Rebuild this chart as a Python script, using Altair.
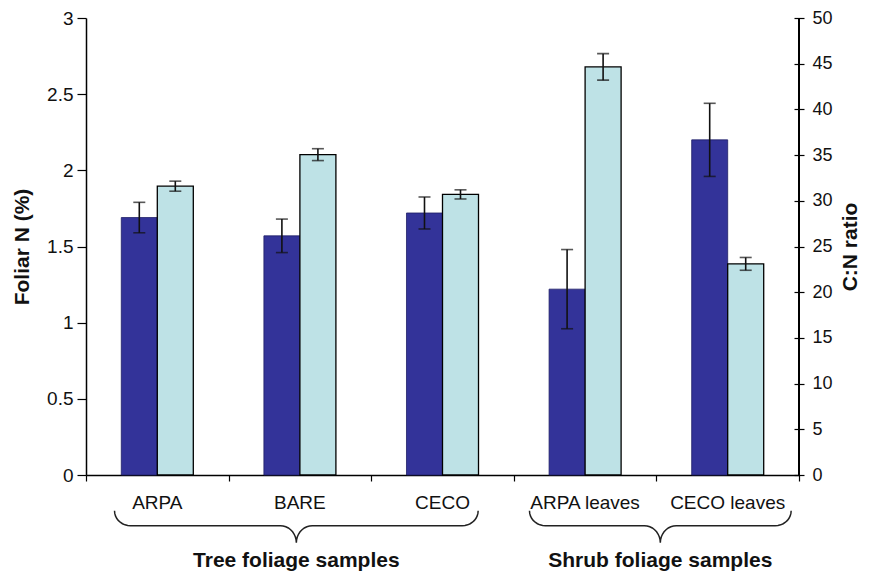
import altair as alt
import pandas as pd
import numpy as np

# ---------------- data ----------------
categories = ["ARPA", "BARE", "CECO", "ARPA leaves", "CECO leaves"]
foliar_n = [1.69, 1.57, 1.72, 1.22, 2.20]
foliar_n_err = [0.10, 0.11, 0.105, 0.26, 0.24]
cn_ratio = [31.6, 35.05, 30.7, 44.65, 23.1]
cn_ratio_err = [0.55, 0.65, 0.5, 1.45, 0.7]

group_names = ["Tree foliage samples", "Shrub foliage samples"]
group_first = [0, 3]   # index of first category in group
group_last = [2, 4]    # index of last category in group

y_ticks_n = [0, 0.5, 1, 1.5, 2, 2.5, 3]
y_ticks_cn = [0, 5, 10, 15, 20, 25, 30, 35, 40, 45, 50]

# ---------------- style ----------------
FONT = "Liberation Sans"
DARK = "#333399"
LIGHT = "#BEE2E6"
INK = "#111111"
W, H = 713, 457

n_df = pd.DataFrame({
    "category": categories,
    "value": foliar_n,
    "lo": np.array(foliar_n) - np.array(foliar_n_err),
    "hi": np.array(foliar_n) + np.array(foliar_n_err),
    "series": "N",
})
cn_df = pd.DataFrame({
    "category": categories,
    "value": cn_ratio,
    "lo": np.array(cn_ratio) - np.array(cn_ratio_err),
    "hi": np.array(cn_ratio) + np.array(cn_ratio_err),
    "series": "CN",
})

x_band = alt.X(
    "category:N", sort=categories,
    scale=alt.Scale(paddingInner=0.495, paddingOuter=0.2475),
    axis=alt.Axis(title=None, ticks=False, tickSize=0, labelAngle=0,
                  labelFont=FONT, labelFontSize=19, labelColor=INK,
                  labelPadding=18, domainColor="#000", domainWidth=1.5),
)
x_off = alt.XOffset("series:N", scale=alt.Scale(domain=["N", "CN"],
                                               paddingInner=0, paddingOuter=0))

n_axis = alt.Axis(orient="left", values=y_ticks_n, format="~g", grid=False,
                  tickSize=9, tickColor="#000", tickWidth=1.2,
                  domainColor="#000", domainWidth=1.5,
                  labelFont=FONT, labelFontSize=19, labelColor=INK, labelPadding=4,
                  titleFont=FONT, titleFontSize=21, titleFontWeight="bold",
                  titleColor=INK, titlePadding=14)
cn_axis = alt.Axis(orient="right", values=y_ticks_cn, format="~g", grid=False,
                   tickSize=10, tickColor="#000", tickWidth=1.2, offset=-5,
                   domain=False,
                   labelFont=FONT, labelFontSize=18, labelColor=INK, labelPadding=8,
                   titleFont=FONT, titleFontSize=21, titleFontWeight="bold",
                   titleColor=INK, titlePadding=7, titleAngle=270,
                   titleBaseline="top")

n_scale = alt.Scale(domain=[0, 3], nice=False, zero=True)
cn_scale = alt.Scale(domain=[0, 50], nice=False, zero=True)


def series_layer(df, scale, axis, title, fill, stroke, sw):
    def Y(field):
        return alt.Y(f"{field}:Q", scale=scale, axis=axis, title=title)
    bars = alt.Chart(df).mark_bar(color=fill, stroke=stroke, strokeWidth=sw).encode(
        x=x_band, xOffset=x_off, y=Y("value"))
    rule = alt.Chart(df).mark_rule(color=INK, strokeWidth=1.6).encode(
        x=x_band, xOffset=x_off, y=Y("lo"), y2="hi:Q")
    cap_lo = alt.Chart(df).mark_tick(color=INK, size=12, thickness=1.6).encode(
        x=x_band, xOffset=x_off, y=Y("lo"))
    cap_hi = alt.Chart(df).mark_tick(color=INK, size=12, thickness=1.6).encode(
        x=x_band, xOffset=x_off, y=Y("hi"))
    return alt.layer(bars, rule, cap_lo, cap_hi)


n_layer = series_layer(n_df, n_scale, n_axis, "Foliar N (%)", DARK, "#1e1e66", 0.8)
cn_layer = series_layer(cn_df, cn_scale, cn_axis, "C:N ratio", LIGHT, "#000000", 1.3)
right_line = alt.Chart(cn_df).mark_rule(color="#000", strokeWidth=1.5).encode(
    x=alt.value(W), y=alt.value(0), y2=alt.value(H))

bars_part = alt.layer(n_layer, cn_layer, right_line).resolve_scale(y="independent")

# ---------------- group braces (annotation) ----------------
inset_left = [0.20, 0.11]
inset_right = [0.25, 0.055]
y_end, y_mid, y_tip, y_title = -0.235, -0.333, -0.445, -0.604
rx = 0.112
rows = []
gt = []
for g, name in enumerate(group_names):
    xs = group_first[g] + inset_left[g]
    xe = group_last[g] + 1 - inset_right[g]
    xt = (xs + xe) / 2
    pts = []
    th = np.linspace(np.pi, 1.5 * np.pi, 10)
    pts += [(xs + rx + rx * np.cos(t), y_end + (y_mid - y_end) * (-np.sin(t))) for t in th]
    ph = np.linspace(0, 0.5 * np.pi, 10)
    pts += [(xt - rx + rx * np.sin(p), y_mid + (y_tip - y_mid) * (1 - np.cos(p))) for p in ph]
    pts += [(xt + rx - rx * np.sin(p), y_mid + (y_tip - y_mid) * (1 - np.cos(p))) for p in ph[::-1]]
    pts += [(xe - rx - rx * np.cos(t), y_end + (y_mid - y_end) * (-np.sin(t))) for t in th[::-1]]
    for k, (px, py) in enumerate(pts):
        rows.append({"bx": px, "by": py, "order": k, "group": name})
    gt.append({"gx": xt, "gy": y_title, "group": name})
brace_df = pd.DataFrame(rows)
gtitle_df = pd.DataFrame(gt)

bx_scale = alt.Scale(domain=[0, 5], nice=False, zero=False)
by_scale = alt.Scale(domain=[0, 3], nice=False, zero=True)

braces = alt.Chart(brace_df).mark_line(color="#222", strokeWidth=1.5, clip=False).encode(
    x=alt.X("bx:Q", scale=bx_scale,
            axis=alt.Axis(orient="bottom", values=[0, 1, 2, 3, 4, 5], labels=False,
                          domain=False, grid=False, title=None, ticks=True,
                          tickSize=6, tickColor="#000", tickWidth=1.2)),
    y=alt.Y("by:Q", scale=by_scale, axis=None),
    detail="group:N",
    order=alt.Order("order:Q"),
)
gtitles = alt.Chart(gtitle_df).mark_text(font=FONT, fontSize=21, fontWeight="bold",
                                         color=INK, baseline="alphabetic",
                                         clip=False).encode(
    x=alt.X("gx:Q", scale=bx_scale),
    y=alt.Y("gy:Q", scale=by_scale, axis=None),
    text="group:N",
)
brace_part = alt.layer(braces, gtitles)

chart = alt.layer(bars_part, brace_part).resolve_scale(
    x="independent", y="independent"
).properties(
    width=W, height=H,
    padding={"left": 78, "top": 10, "right": 62, "bottom": 96},
    autosize=alt.AutoSizeParams(type="none"),
).configure_view(stroke=None)

chart.save("out.html", embed_options={"renderer": "svg", "actions": False})
